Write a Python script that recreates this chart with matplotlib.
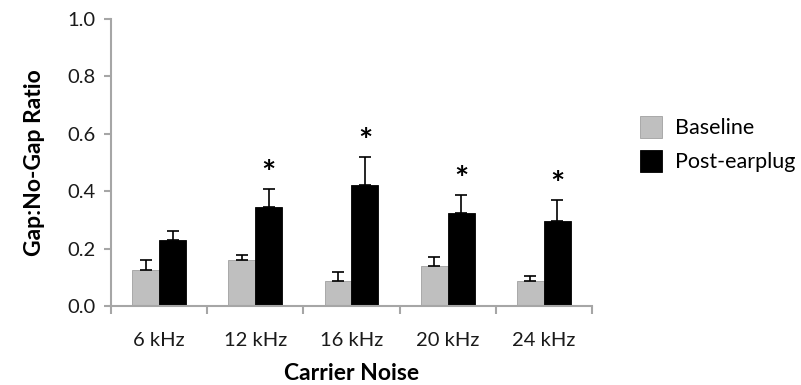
import numpy as np
import matplotlib
matplotlib.use("Agg")
import matplotlib.pyplot as plt

plt.rcParams['font.family'] = ['Lato', 'DejaVu Sans']

categories = ['6 kHz', '12 kHz', '16 kHz', '20 kHz', '24 kHz']
baseline = [0.125, 0.160, 0.088, 0.140, 0.088]
baseline_err = [0.035, 0.018, 0.032, 0.030, 0.017]
post = [0.230, 0.345, 0.420, 0.325, 0.297]
post_err = [0.030, 0.062, 0.098, 0.062, 0.073]
signif = [False, True, True, True, True]

axis_grey = '#A6A6A6'

fig = plt.figure(figsize=(8.01, 3.85), dpi=100)
ax = fig.add_axes([0.1386, 0.2052, 0.6004, 0.7454])

x = np.arange(len(categories))
w = 0.28
zeros = np.zeros(len(categories))

ax.bar(x - w/2, baseline, w, color='#BFBFBF', edgecolor='#A0A0A0', linewidth=0.6,
       yerr=[zeros, baseline_err], capsize=4,
       error_kw=dict(ecolor='black', elinewidth=1.2, capthick=1.2), label='Baseline')
ax.bar(x + w/2, post, w, color='black', edgecolor='black', linewidth=0.6,
       yerr=[zeros, post_err], capsize=4,
       error_kw=dict(ecolor='black', elinewidth=1.2, capthick=1.2), label='Post-earplug')

# significance stars above post-earplug bars
for i in range(len(categories)):
    if signif[i]:
        ax.text(x[i] + w/2, post[i] + post_err[i] + 0.0, '*', ha='center', va='bottom',
                fontsize=24, fontweight='bold')

ax.set_xlim(-0.5, len(categories) - 0.5)
ax.set_ylim(0, 1.0)
ax.set_yticks(np.arange(0, 1.01, 0.2))
ax.set_yticklabels(['%.1f' % v for v in np.arange(0, 1.01, 0.2)])
ax.set_xticks(x)
ax.set_xticklabels(categories)
ax.set_xticks(np.arange(-0.5, len(categories), 1.0), minor=True)
ax.tick_params(axis='x', which='major', length=0, pad=19, labelsize=14.5, labelcolor='#1a1a1a')
ax.tick_params(axis='x', which='minor', length=6, width=1.5, color=axis_grey, direction='out')
ax.tick_params(axis='y', length=5, width=1.5, color=axis_grey, labelsize=14.5,
               pad=6, labelcolor='#1a1a1a')

for s in ['top', 'right']:
    ax.spines[s].set_visible(False)
for s in ['left', 'bottom']:
    ax.spines[s].set_color(axis_grey)
    ax.spines[s].set_linewidth(1.5)

ax.set_ylabel('Gap:No-Gap Ratio', fontsize=16.5, fontweight='bold', labelpad=16)
ax.set_xlabel('Carrier Noise', fontsize=16.5, fontweight='bold', labelpad=10)

ax.legend(loc='upper left', bbox_to_anchor=(1.06, 0.73), frameon=False, fontsize=15.5,
          handlelength=1.0, handleheight=1.2, handletextpad=0.6, labelspacing=0.55)

fig.savefig('out.png', dpi=100)
